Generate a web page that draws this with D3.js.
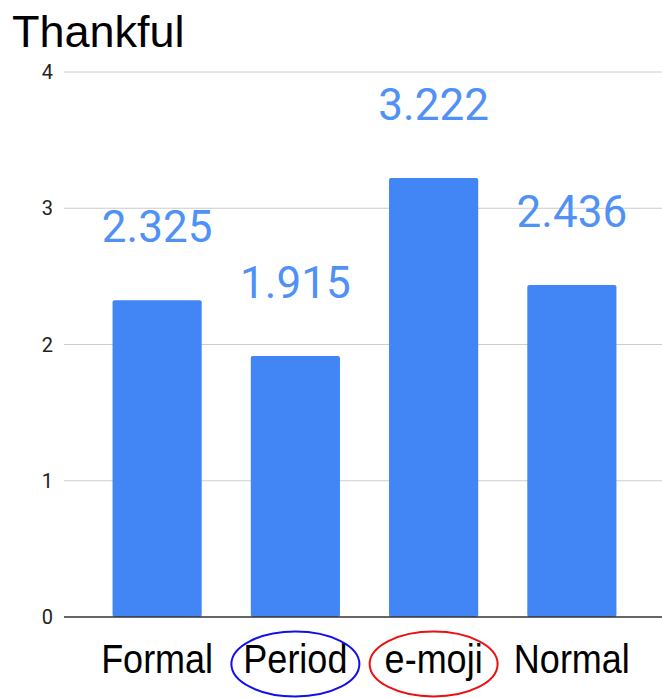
<!DOCTYPE html>
<meta charset="utf-8">
<style>
body { margin: 0; background: #fff; }
.bar { fill: #4285f4; }
.grid line { stroke: #cccccc; stroke-width: 1; }
.tick-label { font-family: Roboto, sans-serif; font-size: 20px; fill: #222; }
.value { font-family: Roboto, sans-serif; font-size: 44px; fill: #5091f5; }
.cat { font-family: "Liberation Sans", Arial, sans-serif; font-size: 40px; fill: #000; }
</style>
<svg width="662" height="698"></svg>
<script src="https://d3js.org/d3.v7.min.js"></script>
<script>

  var categories = ["Formal", "Period", "e-moji", "Normal"];
  var values = [2.325, 1.915, 3.222, 2.436];
  var yTicks = [0, 1, 2, 3, 4];
  // circled labels and their colours
  var circled = { "Period": "#1010ee", "e-moji": "#ee1010" };

  var svg = d3.select("svg");

  var x = d3.scaleBand()
    .domain(categories)
    .range([88, 641])
    .paddingInner(0.355)
    .paddingOuter(0.1775);

  var y = d3.scaleLinear()
    .domain([0, 4])
    .range([617, 72]);

  // title
  svg.append("text")
    .attr("x", 12)
    .attr("y", 47)
    .style("font-family", "'Liberation Sans', Arial, sans-serif")
    .style("font-size", "45px")
    .text("Thankful");

  // gridlines
  var grid = svg.append("g").attr("class", "grid");
  grid.selectAll("line")
    .data(yTicks.filter(function(d) { return d > 0; }))
    .enter().append("line")
    .attr("x1", 64).attr("x2", 662)
    .attr("y1", function(d) { return y(d); })
    .attr("y2", function(d) { return y(d); });

  // y tick labels
  svg.selectAll(".tick-label")
    .data(yTicks)
    .enter().append("text")
    .attr("class", "tick-label")
    .attr("x", 53)
    .attr("y", function(d) { return y(d); })
    .attr("dy", "0.35em")
    .attr("text-anchor", "end")
    .text(function(d) { return d; });

  // bars
  svg.selectAll(".bar")
    .data(values)
    .enter().append("rect")
    .attr("class", "bar")
    .attr("x", function(d, i) { return x(categories[i]); })
    .attr("y", function(d) { return y(d); })
    .attr("width", x.bandwidth())
    .attr("height", function(d) { return y(0) - y(d); })
    .attr("rx", 2);

  // baseline
  svg.append("line")
    .attr("x1", 64).attr("x2", 662)
    .attr("y1", y(0)).attr("y2", y(0))
    .attr("stroke", "#333")
    .attr("stroke-width", 1.5);

  // value labels
  svg.selectAll(".value")
    .data(values)
    .enter().append("text")
    .attr("class", "value")
    .attr("x", function(d, i) { return x(categories[i]) + x.bandwidth() / 2; })
    .attr("y", function(d) { return y(d) - 58; })
    .attr("text-anchor", "middle")
    .text(function(d) { return d; });

  // category labels (slightly condensed like the original)
  svg.selectAll(".cat")
    .data(categories)
    .enter().append("text")
    .attr("class", "cat")
    .attr("transform", function(d) {
      return "translate(" + (x(d) + x.bandwidth() / 2) + ",673) scale(0.9,1)";
    })
    .attr("text-anchor", "middle")
    .text(function(d) { return d; });

  // ellipses around highlighted labels
  svg.selectAll(".ring")
    .data(categories.filter(function(d) { return circled[d]; }))
    .enter().append("ellipse")
    .attr("class", "ring")
    .attr("cx", function(d) { return x(d) + x.bandwidth() / 2; })
    .attr("cy", 664)
    .attr("rx", 64)
    .attr("ry", 32.5)
    .attr("fill", "none")
    .attr("stroke", function(d) { return circled[d]; })
    .attr("stroke-width", 2);
</script>
